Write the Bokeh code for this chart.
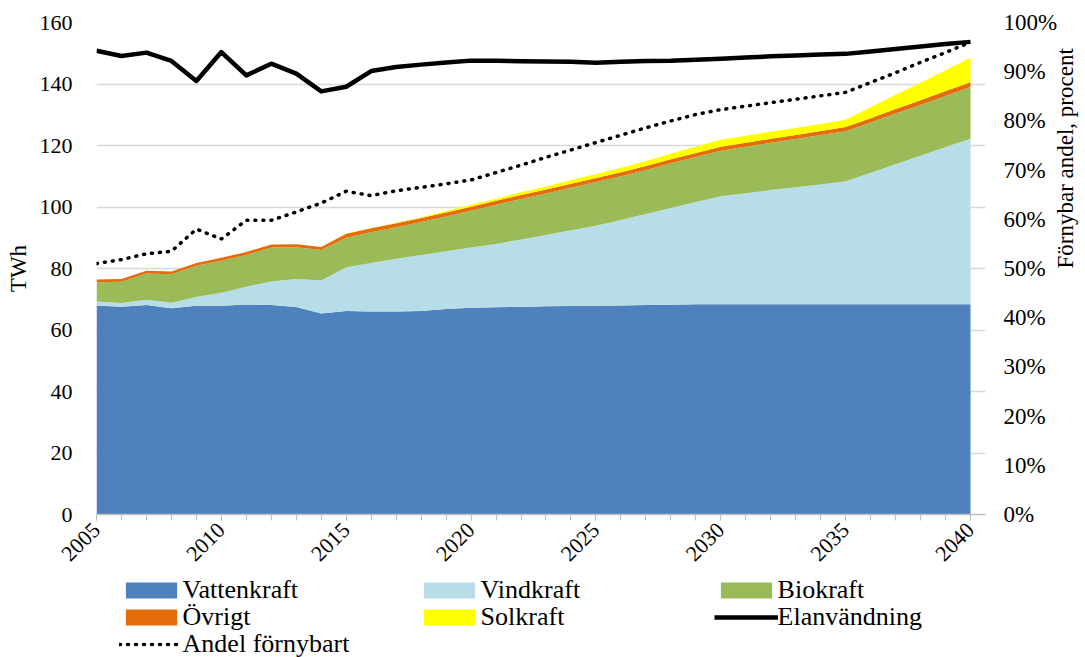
import math
from bokeh.plotting import figure
from bokeh.layouts import column
from bokeh.models import (Range1d, LinearAxis, SingleIntervalTicker, FixedTicker,
                          PrintfTickFormatter, Legend, LegendItem, ColumnDataSource)
from bokeh.embed import file_html
from bokeh.resources import INLINE

years = list(range(2005, 2041))
vattenkraft = [68.0, 67.6, 68.1, 67.1, 67.9, 67.9, 68.3, 68.1, 67.5, 65.4,
               66.2, 66.0, 66.0, 66.2, 66.8, 67.2, 67.4, 67.5, 67.7, 67.8,
               67.9, 68.0, 68.1, 68.2, 68.4, 68.4, 68.4, 68.4, 68.4, 68.4,
               68.4, 68.4, 68.4, 68.4, 68.4, 68.4]
vindkraft = [1.3, 1.2, 1.7, 1.8, 2.8, 4.2, 5.8, 7.7, 9.1, 10.7,
             14.2, 15.8, 17.2, 18.2, 18.8, 19.6, 20.6, 21.9, 23.2, 24.6,
             26.0, 27.8, 29.6, 31.5, 33.2, 35.1, 36.1, 37.1, 38.0, 38.9,
             40.0, 42.7, 45.5, 48.3, 51.1, 53.8]
biokraft = [6.2, 6.9, 8.6, 9.2, 10.2, 10.4, 10.3, 11.0, 10.3, 9.9,
            9.6, 10.0, 10.2, 10.7, 11.3, 12.0, 12.7, 13.2, 13.5, 13.9,
            14.2, 14.2, 14.3, 14.5, 14.7, 14.8, 15.1, 15.4, 15.7, 16.1,
            16.2, 16.4, 16.5, 16.5, 16.6, 16.8]
ovrigt = [0.9, 0.9, 0.9, 0.9, 0.9, 1.0, 1.0, 1.0, 1.0, 1.0,
          1.3, 1.3, 1.3, 1.3, 1.3, 1.3, 1.3, 1.3, 1.3, 1.3,
          1.3, 1.3, 1.3, 1.3, 1.3, 1.3, 1.3, 1.3, 1.3, 1.3,
          1.4, 1.4, 1.5, 1.5, 1.6, 1.6]
solkraft = [0, 0, 0, 0, 0, 0, 0, 0, 0, 0,
            0.05, 0.1, 0.2, 0.3, 0.5, 0.6, 0.7, 0.9, 1.0, 1.2,
            1.3, 1.5, 1.7, 1.9, 2.1, 2.3, 2.3, 2.3, 2.3, 2.3,
            2.4, 3.5, 4.6, 5.7, 6.8, 7.9]
elanvandning = [150.8, 149.1, 150.2, 147.5, 141.0, 150.4, 142.8, 146.6, 143.4, 137.6,
                139.1, 144.2, 145.5, 146.3, 147.0, 147.6, 147.6, 147.4, 147.3, 147.2,
                146.9, 147.2, 147.5, 147.6, 147.9, 148.2, 148.6, 149.0, 149.3, 149.6,
                149.8, 150.6, 151.4, 152.2, 153.0, 153.7]
andel_fornybart = [51.0, 51.8, 53.0, 53.5, 58.0, 56.0, 59.8, 59.8, 61.5, 63.3,
                   65.7, 64.8, 65.8, 66.5, 67.2, 68.0, 69.5, 71.0, 72.6, 74.1,
                   75.6, 77.1, 78.6, 80.0, 81.3, 82.3, 83.0, 83.7, 84.4, 85.1,
                   85.8, 87.8, 89.8, 91.9, 93.9, 96.0]

names = ["Vattenkraft", "Vindkraft", "Biokraft", "Övrigt", "Solkraft"]
colors = ["#4f81bd", "#b7dde8", "#9bbb59", "#e46c0a", "#ffff00"]
left_ticks = [0, 20, 40, 60, 80, 100, 120, 140, 160]
right_ticks = [0, 10, 20, 30, 40, 50, 60, 70, 80, 90, 100]

FONT = "Liberation Serif"

source = ColumnDataSource(dict(year=years, Vattenkraft=vattenkraft, Vindkraft=vindkraft,
                               Biokraft=biokraft, Övrigt=ovrigt, Solkraft=solkraft,
                               el=elanvandning, andel=andel_fornybart))


def draw(fig, **kw):
    ar = fig.varea_stack(stackers=names, x="year", color=colors, source=source)
    dt = fig.line("year", "andel", source=source, color="black", line_width=3.5,
                  line_dash="1 7", line_cap="round", **kw)
    ln = fig.line("year", "el", source=source, color="black", line_width=4.5,
                  line_join="round")
    return ar, dt, ln


# ---------------- main chart ----------------
p = figure(frame_width=889, frame_height=492, output_backend="svg", toolbar_location=None,
           x_range=Range1d(2005, 2040.6), y_range=Range1d(0, 160),
           min_border_left=96, min_border_right=100, min_border_top=22, min_border_bottom=58)
p.outline_line_color = None
p.extra_y_ranges = {"pct": Range1d(0, 100)}

areas, dot, el = draw(p, y_range_name="pct")

xa = p.xaxis[0]
xa.ticker = SingleIntervalTicker(interval=5, num_minor_ticks=5)
xa.major_label_orientation = math.pi / 4
xa.major_label_text_font = FONT
xa.major_label_text_font_size = "22px"
xa.major_label_text_color = "black"
xa.axis_line_color = "#bfbfbf"
xa.axis_line_width = 1.5
xa.major_tick_line_color = "#bfbfbf"
xa.minor_tick_line_color = "#bfbfbf"
xa.major_tick_in = 0
xa.major_tick_out = 6
xa.minor_tick_in = 0
xa.minor_tick_out = 6
xa.major_label_standoff = 6

ya = p.yaxis[0]
ya.ticker = FixedTicker(ticks=left_ticks)
ya.axis_line_color = None
ya.major_tick_line_color = None
ya.minor_tick_line_color = None
ya.major_label_text_font = FONT
ya.major_label_text_font_size = "22px"
ya.major_label_text_color = "black"
ya.major_label_standoff = 18
ya.axis_label = "TWh"
ya.axis_label_text_font = FONT
ya.axis_label_text_font_style = "normal"
ya.axis_label_text_font_size = "23px"
ya.axis_label_text_color = "black"
ya.axis_label_standoff = 6

p.xgrid.visible = False
p.ygrid.ticker = FixedTicker(ticks=left_ticks)
p.ygrid.grid_line_color = "#d9d9d9"
p.ygrid.grid_line_width = 1.5

ra = LinearAxis(y_range_name="pct", ticker=FixedTicker(ticks=right_ticks),
                formatter=PrintfTickFormatter(format="%d%%"))
ra.axis_line_color = None
ra.major_tick_line_color = None
ra.minor_tick_line_color = None
ra.major_label_text_font = FONT
ra.major_label_text_font_size = "23px"
ra.major_label_text_color = "black"
ra.major_label_standoff = 12
ra.axis_label = "Förnybar andel, procent"
ra.axis_label_text_font = FONT
ra.axis_label_text_font_style = "normal"
ra.axis_label_text_font_size = "23px"
ra.axis_label_text_color = "black"
ra.axis_label_standoff = 5
if "axis_label_orientation" in ra.properties():
    ra.axis_label_orientation = math.pi / 2
p.add_layout(ra, "right")

# ---------------- legend strip ----------------
q = figure(width=1085, height=85, output_backend="svg", toolbar_location=None,
           x_range=Range1d(2005, 2040.6), y_range=Range1d(-300, -200),
           x_axis_type=None, y_axis_type=None, min_border=0)
q.outline_line_color = None
q.grid.visible = False
q.extra_y_ranges = {"pct": Range1d(-300, -200)}
lareas, ldot, lel = draw(q, y_range_name="pct")


def add_leg(label, rends, x, y):
    leg = Legend(items=[LegendItem(label=label, renderers=rends)], location=(x, y),
                 orientation="vertical", border_line_color=None, background_fill_alpha=0,
                 padding=0, margin=0, spacing=0, glyph_width=64, glyph_height=20,
                 label_standoff=0, label_text_font=FONT, label_text_font_size="26px",
                 label_text_color="black", label_height=20)
    q.add_layout(leg, "center")


# offsets relative to the (aligned) plot frame
cx = [22.6, 320.6, 617.6]
ry = [52, 25, -2]
add_leg("Vattenkraft", [lareas[0]], cx[0], ry[0])
add_leg("Vindkraft", [lareas[1]], cx[1], ry[0])
add_leg("Biokraft", [lareas[2]], cx[2], ry[0])
add_leg("Övrigt", [lareas[3]], cx[0], ry[1])
add_leg("Solkraft", [lareas[4]], cx[1], ry[1])
add_leg("Elanvändning", [lel], cx[2], ry[1])
add_leg("Andel förnybart", [ldot], cx[0], ry[2])

layout = column(p, q)
open("out.html", "w").write(file_html(layout, INLINE))
